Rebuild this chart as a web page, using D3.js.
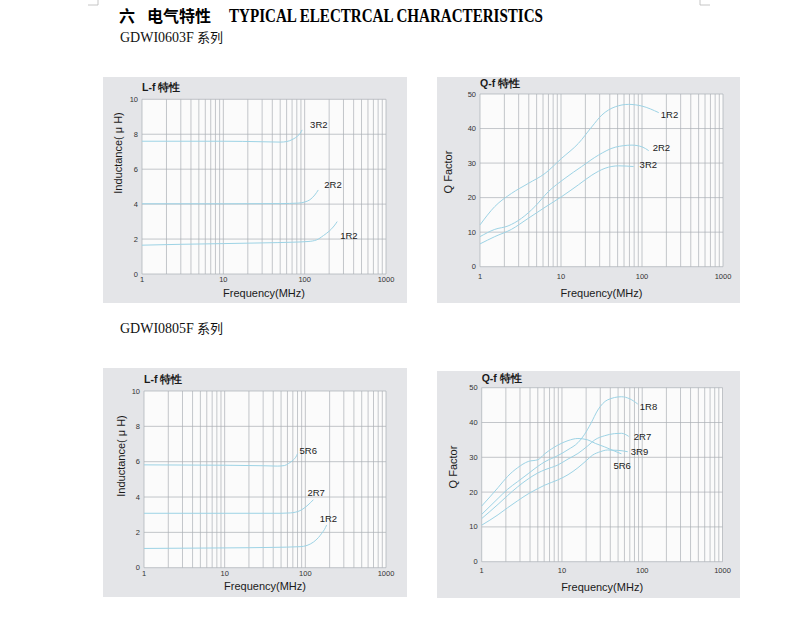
<!DOCTYPE html>
<html>
<head>
<meta charset="utf-8">
<script src="https://cdn.jsdelivr.net/npm/d3@7"></script>
<style>
  body { margin: 0; background: #fff; }
  svg text { font-family: "Liberation Sans", Arial, sans-serif; }
</style>
</head>
<body>
<script>
// tick values
var freqTicks = [1, 10, 100, 1000];
var lTicks = [0, 2, 4, 6, 8, 10];
var qTicks = [0, 10, 20, 30, 40, 50];

// GDWI0603F  L-f  [MHz, uH]
var lf0603_3R2 = [[1,7.6],[10,7.6],[30,7.57],[50,7.55],[60,7.58],[72,7.72],[82,7.9],[88,8.05],[93,8.25]];
var lf0603_2R2 = [[1,4.02],[10,4.02],[50,4.03],[85,4.06],[100,4.12],[116,4.25],[133,4.52],[147,4.81]];
var lf0603_1R2 = [[1,1.65],[3,1.7],[10,1.74],[30,1.78],[70,1.82],[110,1.86],[140,1.95],[170,2.2],[200,2.45],[230,2.75],[251,3.0]];

// GDWI0603F  Q-f
var qf0603_1R2 = [[1,12.1],[1.52,17.4],[2.44,21.2],[3.94,24.1],[6.34,27],[10.2,31.4],[16.4,35.7],[24,40.5],[31.9,43.9],[46.8,46.3],[68.4,47],[100,46.5],[161,44.6]];
var qf0603_2R2 = [[1,8.7],[1.52,10.8],[2.22,11.8],[3.25,14],[4.76,17.4],[6.96,21.7],[11.2,25.6],[18,29],[29,32.3],[46.8,34.6],[75.3,35.2],[100,34.7],[121,33.6]];
var qf0603_3R2 = [[1,6.6],[1.52,8.7],[2.44,10.8],[3.94,14],[6.34,17.2],[10.2,20.3],[16.4,23.7],[24,26.5],[35,28.5],[51.4,29.2],[78.8,29]];

// GDWI0805F  L-f
var lf0805_5R6 = [[1,5.82],[10,5.8],[30,5.77],[45,5.75],[55,5.78],[62,5.9],[71,6.1],[76,6.25],[80,6.45]];
var lf0805_2R7 = [[1,3.08],[10,3.08],[50,3.08],[65,3.1],[86,3.23],[108,3.55],[126,3.85]];
var lf0805_1R2 = [[1,1.09],[10,1.12],[40,1.15],[86,1.19],[105,1.26],[126,1.45],[145,1.7],[160,1.95],[172,2.15],[184,2.42]];

// GDWI0805F  Q-f
var qf0805_1R8 = [[1,13.6],[1.6,18.2],[2.1,20.8],[2.8,23],[3.8,25.3],[5,27.4],[6.1,28.7],[8.9,30.5],[11.9,32.2],[15.8,34.2],[19,36.5],[23,39.8],[28,43.6],[37,46.5],[55,47.4],[70,46.8],[88,45.3]];
var qf0805_2R7 = [[1,12.4],[1.6,16.5],[2.1,19],[2.8,21.5],[3.8,23.8],[5,25.5],[6.1,26.4],[8.9,27.8],[11.9,29.5],[15.8,31.1],[21,33.3],[25.6,35],[34,36.2],[45,36.8],[55,36.9],[68,36]];
var qf0805_3R9 = [[1,10.5],[1.6,13.5],[2.1,15.5],[2.8,17.5],[3.8,19.5],[5,21],[6.1,22],[8.9,23.5],[11.9,25],[15.8,27],[20,29],[24,30.6],[30,31.6],[37,32.1],[50,32],[66,31.6]];
var qf0805_5R6 = [[1,16],[1.6,21.3],[2.1,24.5],[2.8,27],[3.8,28.8],[5,29.3],[6.1,31],[8.9,33.5],[11.9,34.8],[15.8,35.4],[21,35],[26,34],[34,33],[45,31.8],[55,31]];

var svg = d3.select("body").append("svg")
  .attr("width", 792)
  .attr("height", 621);

// page corner marks
svg.append("path").attr("d", "M88,5H98V0M710,5H700V0")
  .attr("fill", "none").attr("stroke", "#b8b8b8").attr("stroke-width", 0.8);

// headings
var head = svg.append("text").attr("y", 22).attr("fill", "#000").attr("font-weight", "bold");
head.append("tspan").attr("x", 119).style("font-family", "'Noto Sans CJK SC'").attr("font-size", 16).text("六");
head.append("tspan").attr("x", 147).style("font-family", "'Noto Sans CJK SC'").attr("font-size", 16).text("电气特性");
head.append("tspan").attr("x", 229).style("font-family", "'Liberation Serif', serif").attr("font-size", 18)
  .attr("textLength", 314).attr("lengthAdjust", "spacingAndGlyphs")
  .text("TYPICAL ELECTRCAL CHARACTERISTICS");

function series(y0, name) {
  var t = svg.append("text").attr("y", y0).attr("fill", "#111");
  t.append("tspan").attr("x", 120).style("font-family", "'Liberation Serif', serif").attr("font-size", 14).text(name);
  t.append("tspan").attr("x", 197).style("font-family", "'Noto Sans CJK SC'").attr("font-size", 13).text("系列");
}
series(42, "GDWI0603F");
series(333, "GDWI0805F");

var panels = [
  { box: [103, 77, 304, 226], plot: [142, 99.3, 386, 274], yMax: 10, yTicks: lTicks,
    title: "L-f 特性", titleY: 91, yLabel: "Inductance( μ H)", yLabelPos: [118, 153],
    xLabelY: 297, tickY: 282,
    curves: [{n: "3R2", d: lf0603_3R2, dx: 8, dy: -5}, {n: "2R2", d: lf0603_2R2, dx: 6, dy: -5}, {n: "1R2", d: lf0603_1R2, dx: 3, dy: 14}] },
  { box: [437, 77, 303, 226], plot: [480, 94, 723, 266.7], yMax: 50, yTicks: qTicks,
    title: "Q-f 特性", titleY: 87, yLabel: "Q Factor", yLabelPos: [448, 172],
    xLabelY: 297, tickY: 279,
    curves: [{n: "1R2", d: qf0603_1R2, dx: 2, dy: 2}, {n: "2R2", d: qf0603_2R2, dx: 4, dy: -3}, {n: "3R2", d: qf0603_3R2, dx: 6, dy: -2}] },
  { box: [103, 368, 304, 229], plot: [144, 391, 386, 567.7], yMax: 10, yTicks: lTicks,
    title: "L-f 特性", titleY: 382.5, yLabel: "Inductance( μ H)", yLabelPos: [121, 456],
    xLabelY: 590, tickY: 576,
    curves: [{n: "5R6", d: lf0805_5R6, dx: 2, dy: -3}, {n: "2R7", d: lf0805_2R7, dx: -6, dy: -7}, {n: "1R2", d: lf0805_1R2, dx: -7, dy: -6}] },
  { box: [437, 371, 303, 227], plot: [481.7, 387.7, 722.5, 561.7], yMax: 50, yTicks: qTicks,
    title: "Q-f 特性", titleY: 381.5, yLabel: "Q Factor", yLabelPos: [453, 467],
    xLabelY: 591, tickY: 573,
    curves: [{n: "1R8", d: qf0805_1R8, dx: 2, dy: 2}, {n: "2R7", d: qf0805_2R7, dx: 5, dy: 0}, {n: "3R9", d: qf0805_3R9, dx: 3, dy: 0}, {n: "5R6", d: qf0805_5R6, dx: -8, dy: 12}] }
];

panels.forEach(function(p) {
  var g = svg.append("g");
  g.append("rect")
    .attr("x", p.box[0]).attr("y", p.box[1])
    .attr("width", p.box[2]).attr("height", p.box[3])
    .attr("fill", "#e4e5e8");

  var x = d3.scaleLog().domain([1, 1000]).range([p.plot[0], p.plot[2]]);
  var y = d3.scaleLinear().domain([0, p.yMax]).range([p.plot[3], p.plot[1]]);

  g.append("rect")
    .attr("x", p.plot[0]).attr("y", p.plot[1])
    .attr("width", p.plot[2] - p.plot[0]).attr("height", p.plot[3] - p.plot[1])
    .attr("fill", "#fbfbfb");

  // log grid
  g.selectAll(".vg").data(x.ticks()).enter().append("line")
    .attr("x1", function(d) { return x(d); }).attr("x2", function(d) { return x(d); })
    .attr("y1", p.plot[1]).attr("y2", p.plot[3])
    .attr("stroke", "#abafb4").attr("stroke-width", 0.7);
  g.selectAll(".hg").data(p.yTicks).enter().append("line")
    .attr("x1", p.plot[0]).attr("x2", p.plot[2])
    .attr("y1", function(d) { return y(d); }).attr("y2", function(d) { return y(d); })
    .attr("stroke", "#abafb4").attr("stroke-width", 0.7);

  // tick labels
  g.selectAll(".yt").data(p.yTicks).enter().append("text")
    .attr("x", p.plot[0] - 4).attr("y", function(d) { return y(d) + 2.5; })
    .attr("text-anchor", "end").attr("font-size", 7.5).attr("fill", "#333")
    .text(function(d) { return d; });
  g.selectAll(".xt").data(freqTicks).enter().append("text")
    .attr("x", function(d) { return x(d); }).attr("y", p.tickY)
    .attr("text-anchor", "middle").attr("font-size", 7.5).attr("fill", "#333")
    .text(function(d) { return d; });

  g.append("text").attr("x", p.plot[0]).attr("y", p.titleY)
    .attr("font-size", 10.5).attr("font-weight", "bold").attr("fill", "#1a1a1a")
    .text(p.title);
  g.append("text").attr("x", (p.plot[0] + p.plot[2]) / 2).attr("y", p.xLabelY)
    .attr("text-anchor", "middle").attr("font-size", 11).attr("fill", "#1a1a1a")
    .text("Frequency(MHz)");
  g.append("text")
    .attr("transform", "translate(" + p.yLabelPos[0] + "," + p.yLabelPos[1] + ")rotate(-90)")
    .attr("text-anchor", "middle").attr("dominant-baseline", "central")
    .attr("font-size", 11).attr("fill", "#1a1a1a")
    .text(p.yLabel);

  var line = d3.line()
    .x(function(d) { return x(d[0]); })
    .y(function(d) { return y(d[1]); })
    .curve(d3.curveMonotoneX);

  p.curves.forEach(function(c) {
    g.append("path").attr("d", line(c.d))
      .attr("fill", "none").attr("stroke", "#9dd3e5").attr("stroke-width", 1);
    var last = c.d[c.d.length - 1];
    g.append("text")
      .attr("x", x(last[0]) + c.dx).attr("y", y(last[1]) + c.dy)
      .attr("dominant-baseline", "central")
      .attr("font-size", 9.5).attr("fill", "#1a1a1a")
      .text(c.n);
  });
});
</script>
</body>
</html>
